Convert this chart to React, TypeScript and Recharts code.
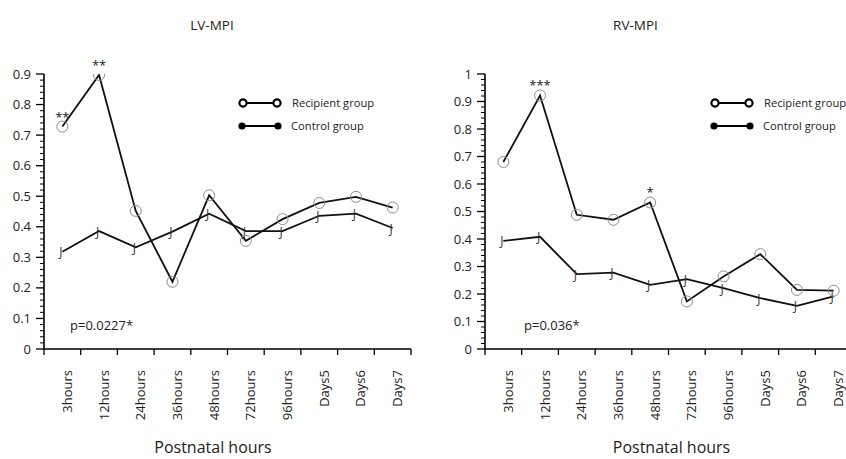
import React from 'react';
import { LineChart, Line, XAxis, YAxis, LabelList } from 'recharts';

const FONT = '"Open Sans", "DejaVu Sans", sans-serif';

const categories = ['3hours', '12hours', '24hours', '36hours', '48hours', '72hours', '96hours', 'Days5', 'Days6', 'Days7'];

const lvRecipient = [0.728, 0.897, 0.452, 0.22, 0.503, 0.354, 0.425, 0.478, 0.498, 0.463];
const lvControl = [0.318, 0.386, 0.333, 0.384, 0.443, 0.386, 0.386, 0.436, 0.443, 0.396];
const lvSig = ['**', '**', '', '', '', '', '', '', '', ''];

const rvRecipient = [0.68, 0.922, 0.488, 0.47, 0.533, 0.173, 0.264, 0.345, 0.215, 0.212];
const rvControl = [0.393, 0.408, 0.272, 0.278, 0.233, 0.254, 0.221, 0.185, 0.157, 0.191];
const rvSig = ['', '***', '', '', '*', '', '', '', '', ''];

const PLOT_W = 367;
const BAND = PLOT_W / categories.length;

// value-axis ticks every 0.02, labelled every 0.1
const axisSteps = (max: number) => Array.from({ length: Math.round(max / 0.02) + 1 }, (_, i) => +(i * 0.02).toFixed(2));
const isMajor = (v: number) => Math.abs(v * 10 - Math.round(v * 10)) < 1e-6;

const buildRows = (rec: number[], ctl: number[], sig: string[]) =>
  categories.map((name, i) => ({ name, recipient: rec[i], control: ctl[i], sig: sig[i] }));

const RecipientDot = (props: any) => {
  const { cx, cy, index } = props;
  return <circle key={`r-${index}`} cx={cx} cy={cy} r={5.5} fill="none" stroke="#8c8c8c" strokeWidth={1} />;
};

const ControlDot = (props: any) => {
  const { cx, cy, index } = props;
  return (
    <text key={`c-${index}`} x={cx - 1.5} y={cy + 4.5} textAnchor="middle" fontSize={12} fill="#333" fontFamily={FONT}>
      J
    </text>
  );
};

const SigLabel = (props: any) => {
  const { x, y, value } = props;
  if (!value) return null;
  return (
    <text x={x} y={y - 5} textAnchor="middle" fontSize={13} fill="#222" fontFamily={FONT}>
      {value}
    </text>
  );
};

const CategoryTick = (props: any) => {
  const { x, y, payload, index } = props;
  const last = index === categories.length - 1;
  return (
    <g>
      <line x1={x - BAND / 2} y1={y} x2={x - BAND / 2} y2={y + 6} stroke="#000" strokeWidth={1.3} />
      {last && <line x1={x + BAND / 2} y1={y} x2={x + BAND / 2} y2={y + 6} stroke="#000" strokeWidth={1.3} />}
      <g transform={`translate(${x + 9.5},${y + 21})`}>
        <text transform="rotate(-90)" textAnchor="end" fontSize={13} fill="#222" fontFamily={FONT}>
          {payload.value}
        </text>
      </g>
    </g>
  );
};

const ValueTick = (props: any) => {
  const { x, y, payload } = props;
  const major = isMajor(payload.value);
  return (
    <g>
      <line x1={x - (major ? 8 : 4)} y1={y} x2={x} y2={y} stroke="#000" strokeWidth={major ? 1.3 : 1} />
      {major && (
        <text x={x - 13} y={y + 4.5} textAnchor="end" fontSize={13} fill="#222" fontFamily={FONT}>
          {String(payload.value)}
        </text>
      )}
    </g>
  );
};

const Legendary = ({ x }: { x: number }) => (
  <g transform={`translate(${x},0)`} fontFamily={FONT} fontSize={11.2} fill="#222">
    <line x1={7} y1={103} x2={41} y2={103} stroke="#000" strokeWidth={2} />
    <circle cx={7} cy={103} r={3.6} fill="#fff" stroke="#000" strokeWidth={2.2} />
    <circle cx={41} cy={103} r={3.6} fill="#fff" stroke="#000" strokeWidth={2.2} />
    <text x={56} y={107}>Recipient group</text>
    <line x1={6} y1={126} x2={42} y2={126} stroke="#000" strokeWidth={2} />
    <circle cx={6} cy={126} r={3.6} fill="#000" />
    <circle cx={42} cy={126} r={3.6} fill="#000" />
    <text x={55} y={130}>Control group</text>
  </g>
);

interface PanelProps {
  left: number;
  title: string;
  titleX: number;
  rows: any[];
  max: number;
  pText: string;
  pX: number;
  labelShift: number;
  legendX: number;
}

const Panel: React.FC<PanelProps> = ({ left, title, titleX, rows, max, pText, pX, labelShift, legendX }) => (
  <div style={{ position: 'absolute', left, top: 0, width: 420, height: 459 }}>
    <LineChart width={420} height={459} data={rows} margin={{ top: 74, right: 9, bottom: 0, left: 0 }}>
      <XAxis
        dataKey="name"
        scale="band"
        height={110}
        interval={0}
        tickLine={false}
        tickSize={0}
        tickMargin={0}
        axisLine={{ stroke: '#000', strokeWidth: 1.6 }}
        tick={<CategoryTick />}
        label={(lp: any) => {
          const vb = lp.viewBox;
          return (
            <text x={vb.x + vb.width / 2 + labelShift} y={453} textAnchor="middle" fontSize={16} fill="#222" fontFamily={FONT}>
              Postnatal hours
            </text>
          );
        }}
      />
      <YAxis
        type="number"
        domain={[0, max]}
        ticks={axisSteps(max)}
        width={44}
        tickSize={0}
        tickMargin={0}
        interval={0}
        tickLine={false}
        axisLine={{ stroke: '#000', strokeWidth: 1.6 }}
        tick={<ValueTick />}
        allowDataOverflow
      />
      <Line dataKey="control" stroke="#111" strokeWidth={1.8} dot={ControlDot} activeDot={false} isAnimationActive={false} />
      <Line dataKey="recipient" stroke="#111" strokeWidth={1.8} dot={RecipientDot} activeDot={false} isAnimationActive={false}>
        <LabelList dataKey="sig" content={SigLabel} />
      </Line>
    </LineChart>
    <svg width={420} height={459} style={{ position: 'absolute', left: 0, top: 0, pointerEvents: 'none' }}>
      <text x={titleX} y={30} textAnchor="middle" fontSize={13.5} fill="#222" fontFamily={FONT}>
        {title}
      </text>
      <text x={pX} y={329.5} fontSize={13} fill="#222" fontFamily={FONT}>
        {pText}
      </text>
      <Legendary x={legendX} />
    </svg>
  </div>
);

export default function App() {
  return (
    <div style={{ position: 'fixed', left: 0, top: 0, width: 846, height: 459, overflow: 'hidden', background: '#fff', fontFamily: FONT }}>
      <Panel
        left={0}
        title="LV-MPI"
        titleX={212}
        rows={buildRows(lvRecipient, lvControl, lvSig)}
        max={0.9}
        pText="p=0.0227*"
        pX={70}
        labelShift={-14.5}
        legendX={236}
      />
      <Panel
        left={441}
        title="RV-MPI"
        titleX={194.5}
        rows={buildRows(rvRecipient, rvControl, rvSig)}
        max={1}
        pText="p=0.036*"
        pX={83}
        labelShift={3}
        legendX={267}
      />
    </div>
  );
}
